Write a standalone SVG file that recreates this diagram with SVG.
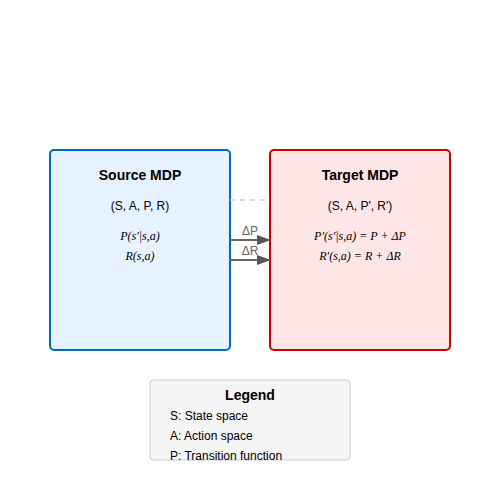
<svg xmlns="http://www.w3.org/2000/svg" width="500" height="500" viewBox="0 0 500 500">
<style>
.t{font-family:"Liberation Sans",Arial,sans-serif;fill:#000}
.title{font-size:14px;font-weight:bold;text-anchor:middle}
.sub{font-size:12px;text-anchor:middle}
.f{font-family:"Liberation Serif","Times New Roman",serif;font-style:italic;font-size:12px;text-anchor:middle;fill:#000}
.lbl{font-family:"Liberation Sans",Arial,sans-serif;font-size:12px;fill:#666;text-anchor:middle}
.item{font-family:"Liberation Sans",Arial,sans-serif;font-size:12px;fill:#000}
</style>
<defs>
<marker id="ah" markerWidth="14" markerHeight="12" refX="13" refY="5" orient="auto" markerUnits="userSpaceOnUse">
<path d="M0,0 L14,5 L0,10 Z" fill="#555"/>
</marker>
<clipPath id="lc"><rect x="150" y="380" width="200" height="80" rx="3"/></clipPath>
</defs>
<rect width="500" height="500" fill="#fff"/>
<g id="source">
<rect x="50" y="150" width="180" height="200" rx="4" fill="#e6f2ff" stroke="#0066cc" stroke-width="2"/>
<text class="t title" x="140" y="180">Source MDP</text>
<text class="t sub" x="140" y="210">(S, A, P, R)</text>
<text class="f" x="140" y="240">P(s′|s,a)</text>
<text class="f" x="140" y="260">R(s,a)</text>
</g>
<g id="target">
<rect x="270" y="150" width="180" height="200" rx="4" fill="#ffe6e6" stroke="#cc0000" stroke-width="2"/>
<text class="t title" x="360" y="180">Target MDP</text>
<text class="t sub" x="360" y="210">(S, A, P', R')</text>
<text class="f" x="360" y="240">P′(s′|s,a) = P + ΔP</text>
<text class="f" x="360" y="260">R′(s,a) = R + ΔR</text>
</g>
<g id="connectors">
<line x1="230" y1="200" x2="270" y2="200" stroke="#ccc" stroke-width="1.5" stroke-dasharray="5,5"/>
<line x1="230" y1="240" x2="270" y2="240" stroke="#666" stroke-width="2" marker-end="url(#ah)"/>
<line x1="230" y1="260" x2="270" y2="260" stroke="#666" stroke-width="2" marker-end="url(#ah)"/>
<text class="lbl" x="250" y="235">ΔP</text>
<text class="lbl" x="250" y="255">ΔR</text>
</g>
<g id="legend">
<rect x="150" y="380" width="200" height="80" rx="3" fill="#f5f5f5" stroke="#ccc" stroke-width="1"/>
<g clip-path="url(#lc)">
<text class="t title" x="250" y="400">Legend</text>
<text class="item" x="170" y="420">S: State space</text>
<text class="item" x="170" y="440">A: Action space</text>
<text class="item" x="170" y="460">P: Transition function</text>
</g>
</g>
</svg>
